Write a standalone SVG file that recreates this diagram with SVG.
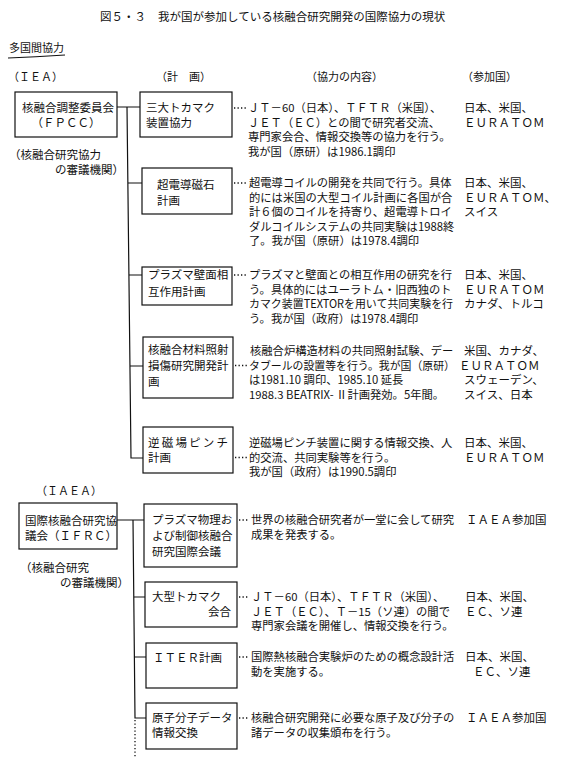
<svg xmlns="http://www.w3.org/2000/svg" width="578" height="781" viewBox="0 0 578 781">
<style>
.t{font-family:"Noto Sans CJK JP","Noto Sans",sans-serif;font-size:11.5px;fill:#111}
.c{font-size:11.3px}
.s{font-size:11px}
.box{fill:none;stroke:#111;stroke-width:1.2}
.ln{fill:none;stroke:#111;stroke-width:1.2}
.dot{fill:none;stroke:#111;stroke-width:1.3;stroke-dasharray:1.3 2.2}
</style>
<rect width="578" height="781" fill="#fff"/>
<g id="title">
<text class="t" x="100" y="21">図５・３</text>
<text class="t" x="158" y="21">我が国が参加している核融合研究開発の国際協力の現状</text>
<text class="t s" x="9" y="52">多国間協力</text>
<path class="ln" d="M8,58 Q35,57 65,55" stroke-width="1"/>
</g>
<g id="headers">
<text class="t s" x="8" y="81">（ＩＥＡ）</text>
<text class="t s" x="156" y="81">（計　画）</text>
<text class="t s" x="306" y="81">（協力の内容）</text>
<text class="t s" x="462" y="81">（参加国）</text>
<text class="t s" x="36" y="495">（ＩＡＥＡ）</text>
</g>
<g id="connectors">
<path class="ln" d="M117,107 H140 M127,107 L131,458 H143 M128,183 H142 M129,275 H142 M130,366 H143"/>
<path class="ln" d="M117,520 H144 M133,520 L135,718 H146 M134,597 H145 M134,657 H146"/>
<path class="dot" d="M135,720 V758"/>
<path class="dot" d="M234,108 H246 M234,183 H247 M234,275 H247 M235,365.5 H247 M235,457.5 H247 M239,520 H249 M239,597 H249 M239,657 H249 M239,718 H249"/>
</g>
<g id="fpcc">
<rect class="box" x="15" y="92" width="102" height="45"/>
<text class="t" x="22" y="112">核融合調整委員会</text>
<text class="t" x="66" y="127" text-anchor="middle">（ＦＰＣＣ）</text>
<text class="t" x="9" y="159">（核融合研究協力</text>
<text class="t" x="55" y="174">の審議機関）</text>
</g>
<g id="p1">
<rect class="box" x="140" y="92" width="92" height="45"/>
<text class="t" x="146" y="112">三大トカマク</text>
<text class="t" x="146" y="127">装置協力</text>
</g>
<g id="c1">
<text class="t c" x="248" y="112">ＪＴ－60（日本）、ＴＦＴＲ（米国）、</text>
<text class="t c" x="248" y="126.5">ＪＥＴ（ＥＣ）との間で研究者交流、</text>
<text class="t c" x="248" y="141">専門家会合、情報交換等の協力を行う。</text>
<text class="t c" x="248" y="155.5">我が国（原研）は1986.1調印</text>
<text class="t" x="464" y="112">日本、米国、</text>
<text class="t" x="464" y="126.5">ＥＵＲＡＴＯＭ</text>
</g>
<g id="p2">
<rect class="box" x="142" y="168" width="90" height="46"/>
<text class="t" x="157" y="189">超電導磁石</text>
<text class="t" x="157" y="205">計画</text>
</g>
<g id="c2">
<text class="t c" x="249" y="187">超電導コイルの開発を共同で行う。具体</text>
<text class="t c" x="249" y="201.5">的には米国の大型コイル計画に各国が合</text>
<text class="t c" x="249" y="216">計６個のコイルを持寄り、超電導トロイ</text>
<text class="t c" x="249" y="230.5">ダルコイルシステムの共同実験は1988終</text>
<text class="t c" x="249" y="245">了。我が国（原研）は1978.4調印</text>
<text class="t" x="464" y="187">日本、米国、</text>
<text class="t" x="464" y="201.5">ＥＵＲＡＴＯＭ、</text>
<text class="t" x="464" y="216">スイス</text>
</g>
<g id="p3">
<rect class="box" x="142" y="267" width="90" height="38"/>
<text class="t" x="148" y="279">プラズマ壁面相</text>
<text class="t" x="148" y="296">互作用計画</text>
</g>
<g id="c3">
<text class="t c" x="249" y="279">プラズマと壁面との相互作用の研究を行</text>
<text class="t c" x="249" y="293.5">う。具体的にはユーラトム・旧西独のト</text>
<text class="t c" x="249" y="308" textLength="204" lengthAdjust="spacingAndGlyphs">カマク装置TEXTORを用いて共同実験を行</text>
<text class="t c" x="249" y="322.5">う。我が国（政府）は1978.4調印</text>
<text class="t" x="464" y="279">日本、米国、</text>
<text class="t" x="464" y="293.5">ＥＵＲＡＴＯＭ</text>
<text class="t" x="464" y="308">カナダ、トルコ</text>
</g>
<g id="p4">
<rect class="box" x="143" y="337" width="90" height="61"/>
<text class="t" x="148" y="354">核融合材料照射</text>
<text class="t" x="148" y="370">損傷研究開発計</text>
<text class="t" x="148" y="386">画</text>
</g>
<g id="c4">
<text class="t c" x="250" y="355">核融合炉構造材料の共同照射試験、デー</text>
<text class="t c" x="249" y="369.5" textLength="206" lengthAdjust="spacingAndGlyphs">タブールの設置等を行う。我が国（原研）</text>
<text class="t c" x="249" y="384">は1981.10 調印、1985.10 延長</text>
<text class="t c" x="249" y="398.5">1988.3 BEATRIX- Ⅱ計画発効。5年間。</text>
<text class="t" x="464" y="355">米国、カナダ、</text>
<text class="t" x="459" y="369.5">ＥＵＲＡＴＯＭ</text>
<text class="t" x="464" y="384">スウェーデン、</text>
<text class="t" x="464" y="398.5">スイス、日本</text>
</g>
<g id="p5">
<rect class="box" x="143" y="427" width="90" height="46"/>
<text class="t" x="148" y="447" textLength="80">逆磁場ピンチ</text>
<text class="t" x="148" y="462">計画</text>
</g>
<g id="c5">
<text class="t c" x="249" y="447">逆磁場ピンチ装置に関する情報交換、人</text>
<text class="t c" x="249" y="461.5">的交流、共同実験等を行う。</text>
<text class="t c" x="249" y="476">我が国（政府）は1990.5調印</text>
<text class="t" x="464" y="447">日本、米国、</text>
<text class="t" x="464" y="461.5">ＥＵＲＡＴＯＭ</text>
</g>
<g id="ifrc">
<rect class="box" x="19" y="503" width="98" height="46"/>
<text class="t" x="25" y="525">国際核融合研究協</text>
<text class="t" x="25" y="540">議会（ＩＦＲＣ）</text>
<text class="t" x="20" y="572">（核融合研究</text>
<text class="t" x="60" y="587">の審議機関）</text>
</g>
<g id="p6">
<rect class="box" x="144" y="504" width="93" height="63"/>
<text class="t" x="152" y="524">プラズマ物理お</text>
<text class="t" x="152" y="540">よび制御核融合</text>
<text class="t" x="152" y="556">研究国際会議</text>
</g>
<g id="c6">
<text class="t c" x="251" y="524">世界の核融合研究者が一堂に会して研究</text>
<text class="t c" x="251" y="538.5">成果を発表する。</text>
<text class="t" x="466" y="524">ＩＡＥＡ参加国</text>
</g>
<g id="p7">
<rect class="box" x="145" y="582" width="92" height="45"/>
<text class="t" x="152" y="601">大型トカマク</text>
<text class="t" x="231" y="616" text-anchor="end">会合</text>
</g>
<g id="c7">
<text class="t c" x="251" y="601">ＪＴ－60（日本）、ＴＦＴＲ（米国）、</text>
<text class="t c" x="251" y="615.5">ＪＥＴ（ＥＣ）、Ｔ－15（ソ連）の間で</text>
<text class="t c" x="251" y="630">専門家会議を開催し、情報交換を行う。</text>
<text class="t" x="465" y="601">日本、米国、</text>
<text class="t" x="465" y="615.5">ＥＣ、ソ連</text>
</g>
<g id="p8">
<rect class="box" x="146" y="643" width="91" height="45"/>
<text class="t" x="153" y="662">ＩＴＥＲ計画</text>
</g>
<g id="c8">
<text class="t c" x="251" y="661">国際熱核融合実験炉のための概念設計活</text>
<text class="t c" x="251" y="675.5">動を実施する。</text>
<text class="t" x="465" y="661">日本、米国、</text>
<text class="t" x="473" y="675.5">ＥＣ、ソ連</text>
</g>
<g id="p9">
<rect class="box" x="146" y="703" width="91" height="46"/>
<text class="t" x="152" y="722">原子分子データ</text>
<text class="t" x="152" y="737">情報交換</text>
</g>
<g id="c9">
<text class="t c" x="251" y="722">核融合研究開発に必要な原子及び分子の</text>
<text class="t c" x="251" y="736.5">諸データの収集頒布を行う。</text>
<text class="t" x="466" y="722">ＩＡＥＡ参加国</text>
</g>
</svg>
